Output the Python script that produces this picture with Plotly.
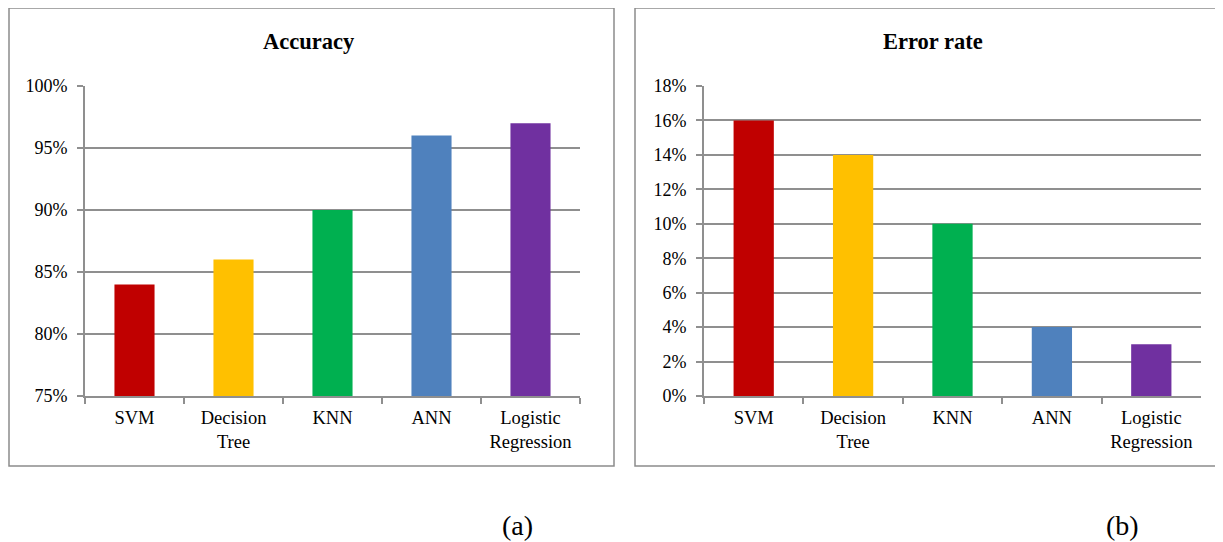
import plotly.graph_objects as go

categories = ["SVM", "Decision<br>Tree", "KNN", "ANN", "Logistic<br>Regression"]
accuracy = [84, 86, 90, 96, 97]
error_rate = [16, 14, 10, 4, 3]
bar_colors = ["#C00000", "#FFC000", "#00B050", "#4F81BD", "#7030A0"]
acc_ticks = [75, 80, 85, 90, 95, 100]
err_ticks = [0, 2, 4, 6, 8, 10, 12, 14, 16, 18]

W, H = 1215, 534
OFF = 8  # page body margin
FONT = "'Liberation Serif', 'Times New Roman', serif"
GRID = "#8f8f8f"

def px(x):
    return (x - OFF) / W

def py(y):
    return 1 - (y - OFF) / H

fig = go.Figure()
fig.add_trace(go.Bar(x=categories, y=accuracy, marker=dict(color=bar_colors, line=dict(width=0)),
                     xaxis="x", yaxis="y", showlegend=False))
fig.add_trace(go.Bar(x=categories, y=error_rate, marker=dict(color=bar_colors, line=dict(width=0)),
                     xaxis="x2", yaxis="y2", showlegend=False))

xcommon = dict(type="category", showgrid=False, showline=True, linecolor=GRID, linewidth=2,
               ticks="outside", tickson="boundaries", ticklen=6, tickwidth=2, tickcolor=GRID,
               tickfont=dict(family=FONT, size=18.5, color="black"), ticklabelstandoff=4,
               fixedrange=True, automargin=False)
ycommon = dict(showgrid=True, gridcolor=GRID, gridwidth=2, showline=True, linecolor=GRID, linewidth=2,
               ticks="outside", ticklen=6, tickwidth=2, tickcolor=GRID,
               tickfont=dict(family=FONT, size=18, color="black"), zeroline=False,
               ticklabelstandoff=6, fixedrange=True, automargin=False)

fig.update_layout(
    template="none",
    width=W, height=H, margin=dict(l=0, r=0, t=0, b=0, pad=0), autosize=False,
    paper_bgcolor="white", plot_bgcolor="white", bargap=0.595,
    font=dict(family=FONT, color="black"),
    xaxis=dict(domain=[px(85), px(580)], anchor="y", **xcommon),
    yaxis=dict(domain=[py(396), py(86)], anchor="x", range=[75, 100], tickvals=acc_ticks,
               ticktext=[f"{v}%" for v in acc_ticks], **ycommon),
    xaxis2=dict(domain=[px(704), px(1201)], anchor="y2", **xcommon),
    yaxis2=dict(domain=[py(396), py(86)], anchor="x2", range=[0, 18], tickvals=err_ticks,
                ticktext=[f"{v}%" for v in err_ticks], **ycommon),
    shapes=[
        dict(type="rect", xref="paper", yref="paper", x0=px(9), x1=px(614), y0=py(466), y1=py(8),
             line=dict(color="#8c8c8c", width=1.5), layer="below"),
        dict(type="rect", xref="paper", yref="paper", x0=px(635), x1=px(1220), y0=py(466), y1=py(8),
             line=dict(color="#8c8c8c", width=1.5), layer="below"),
    ],
    annotations=[
        dict(text="<b>Accuracy</b>", x=px(309), y=py(41), xref="paper", yref="paper", showarrow=False,
             font=dict(family=FONT, size=22.5, color="black"), xanchor="center", yanchor="middle"),
        dict(text="<b>Error rate</b>", x=px(933), y=py(41), xref="paper", yref="paper", showarrow=False,
             font=dict(family=FONT, size=22.5, color="black"), xanchor="center", yanchor="middle"),
        dict(text="(a)", x=px(517), y=py(525), xref="paper", yref="paper", showarrow=False,
             font=dict(family=FONT, size=28, color="black"), xanchor="center", yanchor="middle"),
        dict(text="(b)", x=px(1122), y=py(525), xref="paper", yref="paper", showarrow=False,
             font=dict(family=FONT, size=28, color="black"), xanchor="center", yanchor="middle"),
    ],
)

fig.write_html("out.html")
